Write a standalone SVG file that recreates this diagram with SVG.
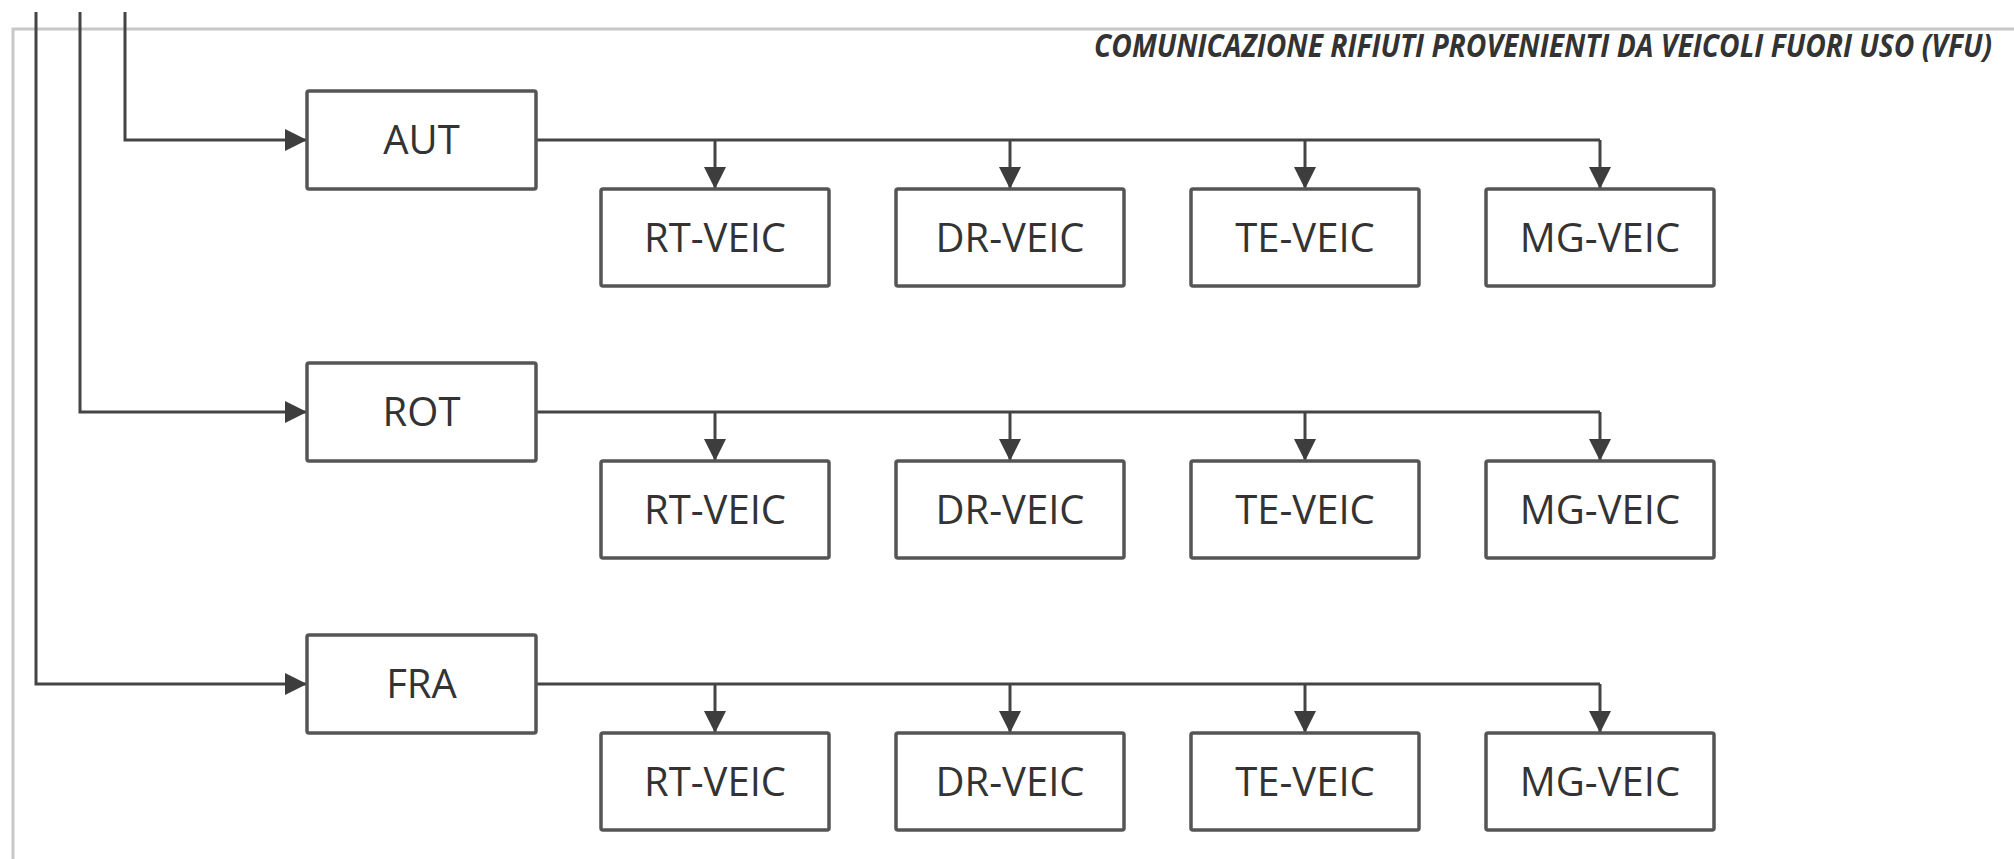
<svg xmlns="http://www.w3.org/2000/svg" width="2014" height="859" viewBox="0 0 2014 859">
<defs>
<marker id="arr" markerWidth="22" markerHeight="22" refX="22" refY="11" orient="auto" markerUnits="userSpaceOnUse">
<path d="M0,0 L22,11 L0,22 Z" fill="#3d3d3d"/>
</marker>
<style>
.box{fill:#ffffff;stroke:#555555;stroke-width:3.5}
.lbl{font-family:"Open Sans","Liberation Sans",sans-serif;font-size:40px;fill:#333333;text-anchor:middle}
.ln{fill:none;stroke:#444444;stroke-width:3}
.frame{fill:none;stroke:#c8c8c8;stroke-width:3}
.title{font-family:"Open Sans","Liberation Sans",sans-serif;font-size:32px;font-weight:bold;font-style:italic;fill:#333333}
</style>
</defs>
<rect width="2014" height="859" fill="#ffffff"/>
<path class="frame" d="M13,859 L13,29 L2014,29"/>
<text class="title" x="1094" y="57" textLength="898" lengthAdjust="spacingAndGlyphs">COMUNICAZIONE RIFIUTI PROVENIENTI DA VEICOLI FUORI USO (VFU)</text>
<g id="connectors">
<path class="ln" d="M125,12 L125,140 L307,140" marker-end="url(#arr)"/>
<path class="ln" d="M80,12 L80,412 L307,412" marker-end="url(#arr)"/>
<path class="ln" d="M36,12 L36,684 L307,684" marker-end="url(#arr)"/>
<path class="ln" d="M536,140 L1600,140"/>
<path class="ln" d="M715,140 L715,189" marker-end="url(#arr)"/>
<path class="ln" d="M1010,140 L1010,189" marker-end="url(#arr)"/>
<path class="ln" d="M1305,140 L1305,189" marker-end="url(#arr)"/>
<path class="ln" d="M1600,140 L1600,189" marker-end="url(#arr)"/>
<path class="ln" d="M536,412 L1600,412"/>
<path class="ln" d="M715,412 L715,461" marker-end="url(#arr)"/>
<path class="ln" d="M1010,412 L1010,461" marker-end="url(#arr)"/>
<path class="ln" d="M1305,412 L1305,461" marker-end="url(#arr)"/>
<path class="ln" d="M1600,412 L1600,461" marker-end="url(#arr)"/>
<path class="ln" d="M536,684 L1600,684"/>
<path class="ln" d="M715,684 L715,733" marker-end="url(#arr)"/>
<path class="ln" d="M1010,684 L1010,733" marker-end="url(#arr)"/>
<path class="ln" d="M1305,684 L1305,733" marker-end="url(#arr)"/>
<path class="ln" d="M1600,684 L1600,733" marker-end="url(#arr)"/>
</g>
<g id="aut"><rect class="box" x="307" y="91" width="229" height="98" rx="2"/><text class="lbl" x="421.5" y="154">AUT</text></g>
<g id="aut-rt"><rect class="box" x="601" y="189" width="228" height="97" rx="2"/><text class="lbl" x="715" y="252">RT-VEIC</text></g>
<g id="aut-dr"><rect class="box" x="896" y="189" width="228" height="97" rx="2"/><text class="lbl" x="1010" y="252">DR-VEIC</text></g>
<g id="aut-te"><rect class="box" x="1191" y="189" width="228" height="97" rx="2"/><text class="lbl" x="1305" y="252">TE-VEIC</text></g>
<g id="aut-mg"><rect class="box" x="1486" y="189" width="228" height="97" rx="2"/><text class="lbl" x="1600" y="252">MG-VEIC</text></g>
<g id="rot"><rect class="box" x="307" y="363" width="229" height="98" rx="2"/><text class="lbl" x="421.5" y="426">ROT</text></g>
<g id="rot-rt"><rect class="box" x="601" y="461" width="228" height="97" rx="2"/><text class="lbl" x="715" y="524">RT-VEIC</text></g>
<g id="rot-dr"><rect class="box" x="896" y="461" width="228" height="97" rx="2"/><text class="lbl" x="1010" y="524">DR-VEIC</text></g>
<g id="rot-te"><rect class="box" x="1191" y="461" width="228" height="97" rx="2"/><text class="lbl" x="1305" y="524">TE-VEIC</text></g>
<g id="rot-mg"><rect class="box" x="1486" y="461" width="228" height="97" rx="2"/><text class="lbl" x="1600" y="524">MG-VEIC</text></g>
<g id="fra"><rect class="box" x="307" y="635" width="229" height="98" rx="2"/><text class="lbl" x="421.5" y="698">FRA</text></g>
<g id="fra-rt"><rect class="box" x="601" y="733" width="228" height="97" rx="2"/><text class="lbl" x="715" y="796">RT-VEIC</text></g>
<g id="fra-dr"><rect class="box" x="896" y="733" width="228" height="97" rx="2"/><text class="lbl" x="1010" y="796">DR-VEIC</text></g>
<g id="fra-te"><rect class="box" x="1191" y="733" width="228" height="97" rx="2"/><text class="lbl" x="1305" y="796">TE-VEIC</text></g>
<g id="fra-mg"><rect class="box" x="1486" y="733" width="228" height="97" rx="2"/><text class="lbl" x="1600" y="796">MG-VEIC</text></g>
</svg>
